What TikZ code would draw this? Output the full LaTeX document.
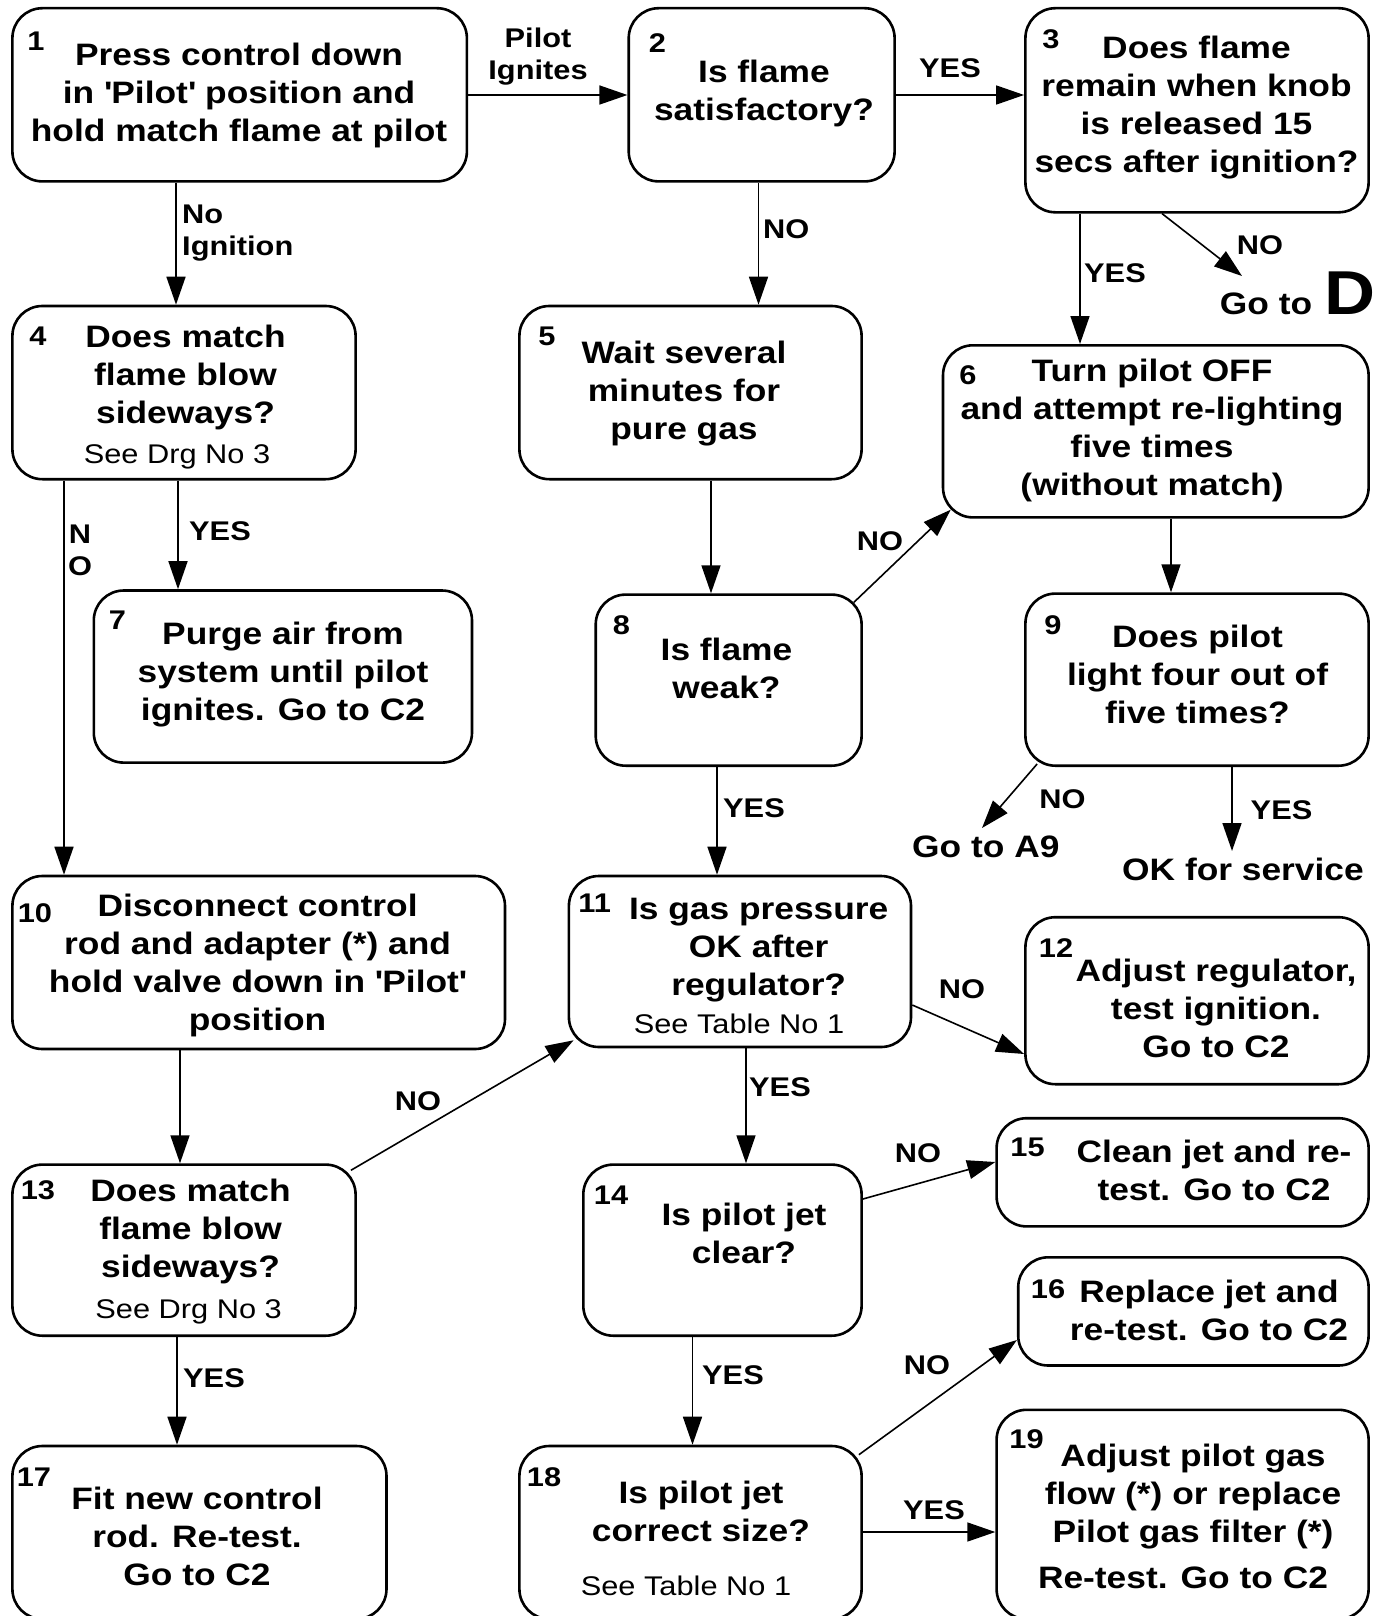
\documentclass[tikz,border=0pt]{standalone}
\usepackage{fontspec}
\setmainfont[FakeStretch=1.14]{Liberation Sans}
\usetikzlibrary{arrows.meta,calc}
\newcommand\sq{\textquotesingle}
\newcommand\mybox[5]{\node[box, minimum width={#4-#2}, minimum height={#5-#3}] (#1) at ({(#2+#4)/2},{(#3+#5)/2}) {};}
\tikzset{
 box/.style={draw, line width=2.6pt, rounded corners=30pt, inner sep=0pt},
 txt/.style={align=center, font=\fontsize{31}{38}\selectfont\bfseries, inner sep=0pt},
 num/.style={font=\fontsize{27}{27}\selectfont\bfseries, inner sep=0pt},
 note/.style={font=\fontsize{27}{30}\selectfont, inner sep=0pt},
 lbl/.style={align=left, font=\fontsize{27}{32}\selectfont\bfseries, inner sep=0pt},
 clbl/.style={align=center, font=\fontsize{27}{32}\selectfont\bfseries, inner sep=0pt},
 arr/.style={line width=1.6pt, -{Triangle[length=28pt,width=19pt]}},
}
\begin{document}
\begin{tikzpicture}[x=1pt,y=-1pt]
\useasboundingbox (0,0) rectangle (1383,1616);
\fill[white] (0,0) rectangle (1383,1616);
\clip (0,0) rectangle (1383,1616);
% boxes
\mybox{b1}{12.4}{8.2}{466.9}{181.4}
\mybox{b2}{628.7}{8.2}{894.6}{181.4}
\mybox{b3}{1025.4}{8.2}{1368.6}{212.3}
\mybox{b4}{12.4}{306}{355.6}{479.2}
\mybox{b5}{519.4}{306}{861.6}{479.2}
\mybox{b6}{943}{345.3}{1368.6}{517.4}
\mybox{b7}{93.8}{590.5}{472}{762.6}
\mybox{b8}{595.7}{594.6}{861.6}{765.7}
\mybox{b9}{1025.4}{593.6}{1368.6}{765.7}
\mybox{b10}{12.4}{876}{505}{1049}
\mybox{b11}{568.9}{876}{911}{1047}
\mybox{b12}{1025.4}{917.2}{1368.6}{1084.2}
\mybox{b13}{12.4}{1164.6}{355.6}{1335.7}
\mybox{b14}{583.3}{1164.6}{861.6}{1335.7}
\mybox{b15}{996.6}{1118.2}{1368.6}{1226.4}
\mybox{b16}{1018.2}{1257.3}{1368.6}{1365.5}
\mybox{b17}{12.4}{1446}{386.5}{1619}
\mybox{b18}{519.4}{1446}{861.6}{1619}
\mybox{b19}{996.6}{1409.8}{1368.6}{1619}
% texts
\node[txt] (t1) at (239,95.7) {Press control down\\in \sq Pilot\sq{} position and\\hold match flame at pilot};
\node[num] (n1) at (36,41) {1};
\node[txt] (t2) at (764,93) {Is flame\\satisfactory?};
\node[num] (n2) at (657.5,43) {2};
\node[txt] (t3) at (1196.5,107.6) {Does flame\\remain when knob\\is released 15\\secs after ignition?};
\node[num] (n3) at (1051,39) {3};
\node[txt] (t4) at (185.5,377) {Does match\\flame blow\\sideways?};
\node[note] (s4) at (177,456.5) {See Drg No 3};
\node[num] (n4) at (38,336) {4};
\node[txt] (t5) at (684,393.5) {Wait several\\minutes for\\pure gas};
\node[num] (n5) at (547,336) {5};
\node[txt] (t6) at (1152,430.7) {Turn pilot OFF\\and attempt re-lighting\\five times\\(without match)};
\node[num] (n6) at (968,375) {6};
\node[txt] (t7) at (283,675) {Purge air from\\system until pilot\\ignites. Go to C2};
\node[num] (n7) at (117.5,620) {7};
\node[txt] (t8) at (726.5,668) {Is flame\\weak?};
\node[num] (n8) at (621.5,625.5) {8};
\node[txt] (t9) at (1197.5,674) {Does pilot\\light four out of\\five times?};
\node[num] (n9) at (1053,625.5) {9};
\node[txt] (t10) at (257.6,965) {Disconnect control\\rod and adapter (*) and\\hold valve down in \sq Pilot\sq\\position};
\node[num] (n10) at (35,913) {10};
\node[txt] (t11) at (758.7,950) {Is gas pressure\\OK after\\regulator?};
\node[note] (s11) at (739,1024) {See Table No 1};
\node[num] (n11) at (594.6,903) {11};
\node[txt] (t12) at (1216,1008) {Adjust regulator,\\test ignition.\\Go to C2};
\node[num] (n12) at (1056,948) {12};
\node[txt] (t13) at (190.6,1231.5) {Does match\\flame blow\\sideways?};
\node[note] (s13) at (188.6,1312) {See Drg No 3};
\node[num] (n13) at (38,1190) {13};
\node[txt] (t14) at (744,1233) {Is pilot jet\\clear?};
\node[num] (n14) at (611,1195.5) {14};
\node[txt] (t15) at (1214,1170) {Clean jet and re-\\test. Go to C2};
\node[num] (n15) at (1027.5,1147) {15};
\node[txt] (t16) at (1209,1310) {Replace jet and\\re-test. Go to C2};
\node[num] (n16) at (1048,1289) {16};
\node[txt] (t17) at (197,1536.6) {Fit new control\\rod. Re-test.\\Go to C2};
\node[num] (n17) at (34,1477) {17};
\node[txt] (t18) at (701,1511) {Is pilot jet\\correct size?};
\node[note] (s18) at (686,1586) {See Table No 1};
\node[num] (n18) at (544,1477) {18};
\node[txt] (t19) at (1193,1497) {Adjust pilot gas\\flow (*) or replace\\Pilot gas filter (*)};
\node[txt] (t19b) at (1183,1578) {Re-test. Go to C2};
\node[num] (n19) at (1026.5,1439) {19};
% outside targets
\node[txt, anchor=base] (gD1) at (1266,314) {Go to};
\node[font=\fontsize{62}{62}\selectfont\bfseries, inner sep=0pt, anchor=base] (gD2) at (1350,314) {D};
\node[txt] (gA9) at (985.8,847) {Go to A9};
\node[txt] (gOK) at (1243,869) {OK for service};
\coordinate (cD) at (1242,276);
\coordinate (cA9) at (982,828);
\coordinate (cOK) at (1232,851);
% connectors
\draw[arr] (b1.east |- 0,95) -- (b2.west |- 0,95);
\draw[arr] (b2.east |- 0,95) -- (b3.west |- 0,95);
\draw[arr] (176,0 |- b1.south) -- (176,0 |- b4.north);
\draw[arr] (758.5,0 |- b2.south) -- (758.5,0 |- b5.north);
\draw[arr] (1080,0 |- b3.south) -- (1080,0 |- b6.north);
\draw[arr] (1162,0 |- b3.south) -- (cD);
\draw[arr] (711,0 |- b5.south) -- (711,0 |- b8.north);
\draw[arr] ($(b8.north east)+(-9,9)$) -- ($(b6.south west)+(9,-9)$);
\draw[arr] (1171,0 |- b6.south) -- (1171,0 |- b9.north);
\draw[arr] (64,0 |- b4.south) -- (64,0 |- b10.north);
\draw[arr] (178,0 |- b4.south) -- (178,0 |- b7.north);
\draw[arr] ($(b9.south west)+(13,-3)$) -- (cA9);
\draw[arr] (1232,0 |- b9.south) -- (cOK);
\draw[arr] (717,0 |- b8.south) -- (717,0 |- b11.north);
\draw[arr] (180,0 |- b10.south) -- (180,0 |- b13.north);
\draw[arr] ($(b13.north east)+(-6,7)$) -- ($(b11.south west)+(6,-8)$);
\draw[arr] (b11.east |- 0,1005) -- (b12.west |- 0,1054);
\draw[arr] (746,0 |- b11.south) -- (746,0 |- b14.north);
\draw[arr] (b14.east |- 0,1199) -- (b15.west |- 0,1162);
\draw[arr] (177,0 |- b13.south) -- (177,0 |- b17.north);
\draw[arr] (692.5,0 |- b14.south) -- (692.5,0 |- b18.north);
\draw[arr] ($(b18.north east)+(-4,10)$) -- (b16.west |- 0,1340);
\draw[arr] (b18.east |- 0,1532) -- (b19.west |- 0,1532);
% labels
\node[clbl] (l12) at (538,57) {Pilot\\Ignites};
\node[clbl] (l23) at (950,68) {YES};
\node[lbl, anchor=west] (l14) at (182,233) {No\\Ignition};
\node[lbl, anchor=west] (l25) at (763,229) {NO};
\node[lbl, anchor=west] (l36) at (1084,273) {YES};
\node[clbl] (l3D) at (1260,245) {NO};
\node[clbl] (l86) at (880,541) {NO};
\node[clbl] (l410) at (80,550.5) {N\\O};
\node[lbl, anchor=west] (l47) at (189,531) {YES};
\node[clbl] (l9A) at (1062.5,799) {NO};
\node[clbl] (l9OK) at (1281.5,810) {YES};
\node[lbl, anchor=west] (l811) at (723,808) {YES};
\node[clbl] (l1112) at (962,989) {NO};
\node[clbl] (l1311) at (418,1100.7) {NO};
\node[lbl, anchor=west] (l1114) at (749,1087) {YES};
\node[clbl] (l1415) at (918,1153) {NO};
\node[lbl, anchor=west] (l1317) at (183,1378) {YES};
\node[lbl, anchor=west] (l1418) at (702,1375) {YES};
\node[clbl] (l1816) at (927,1365.5) {NO};
\node[clbl] (l1819) at (934,1510) {YES};
\end{tikzpicture}
\end{document}
